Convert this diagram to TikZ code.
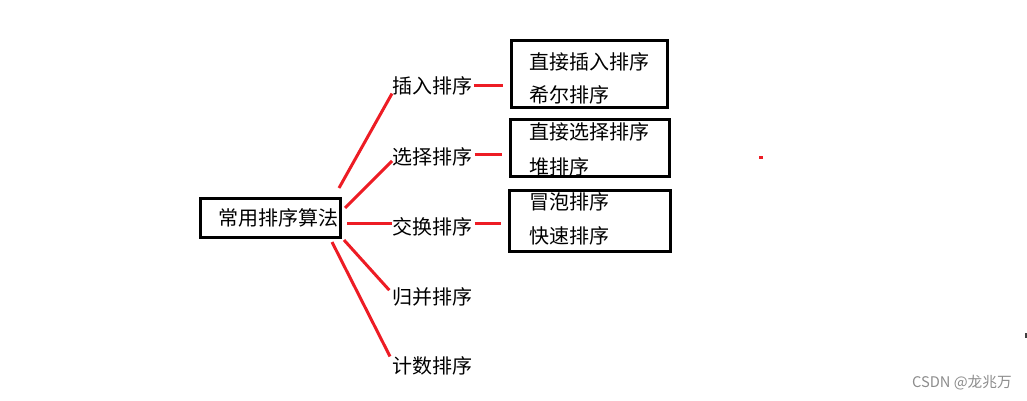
\documentclass[tikz,border=0pt]{standalone}
\usepackage{fontspec}
\setmainfont{Noto Sans CJK SC}
\usepackage{tikz}
\usetikzlibrary{calc}

\definecolor{paintred}{RGB}{237,28,36}

\begin{document}
\begin{tikzpicture}[x=0.75pt, y=-0.75pt,
	every node/.style={font=\fontsize{15}{18}\selectfont, inner sep=0pt},
	frame/.style={draw=black, line width=2.25pt, rectangle},
	branch/.style={draw=paintred, line width=2.25pt},
	item/.style={anchor=west}]

	\useasboundingbox (0,0) rectangle (1027,400);

	% root
	\node[frame, minimum width=105pt, minimum height=29.25pt] (algo) at (270.5,218)
	{\hspace*{11.25pt}常用排序算法};

	% categories
	\node[item] (insert) at (392,86) {插入排序};
	\node[item] (select) at (392,157) {选择排序};
	\node[item] (swap) at (392,227) {交换排序};
	\node[item] (merge) at (392,296.5) {归并排序};
	\node[item] (count) at (392,366) {计数排序};

	% boxes on the right
	\node[frame, minimum width=117pt, minimum height=50.25pt] (insbox) at (589.5,74) {};
	\node[frame, minimum width=119.25pt, minimum height=42.75pt] (selbox) at (590,148) {};
	\node[frame, minimum width=120.75pt, minimum height=45.75pt] (swpbox) at (590,221) {};

	\node[item] (ins1) at (529,61.5) {直接插入排序};
	\node[item] (ins2) at (529,95) {希尔排序};
	\node[item] (sel1) at (529,131.5) {直接选择排序};
	\node[item] (sel2) at (529,167) {堆排序};
	\node[item] (swp1) at (529,201.5) {冒泡排序};
	\node[item] (swp2) at (529,235.5) {快速排序};

	% free ends near the root
	\coordinate (r1) at (339,188);
	\coordinate (r2) at (345,208);
	\coordinate (r3) at (347,223);
	\coordinate (r4) at (344,240);
	\coordinate (r5) at (332,242);

	% red branches
	\draw[branch] (r1) -- ([yshift=1.5pt]insert.south west);
	\draw[branch] (r2) -- ([yshift=-3pt]select.west);
	\draw[branch] (r3) -- (r3 -| swap.west);
	\draw[branch, shorten >=3pt] (r4) -- ([yshift=2.5pt]merge.west);
	\draw[branch] (r5) -- ([xshift=-1.5pt]count.north west);

	% short links to the boxes
	\draw[branch, shorten <=1pt, shorten >=5pt] ([yshift=0.75pt]insert.east) -- ([yshift=0.75pt]insert.east -| insbox.west);
	\draw[branch, shorten <=1.5pt, shorten >=5pt] ([yshift=2.25pt]select.east) -- ([yshift=2.25pt]select.east -| selbox.west);
	\draw[branch, shorten <=1.5pt, shorten >=5pt] ([yshift=3pt]swap.east) -- ([yshift=3pt]swap.east -| swpbox.west);

	% stray marks
	\fill[paintred] (759,155.5) rectangle (763,158.5);
	\fill[black!75] (1025,333) rectangle (1027,338);

	% watermark
	\node[anchor=east, text=black!45, font=\fontsize{11}{13}\selectfont] (mark) at (1012,383) {CSDN @龙兆万};

\end{tikzpicture}
\end{document}
